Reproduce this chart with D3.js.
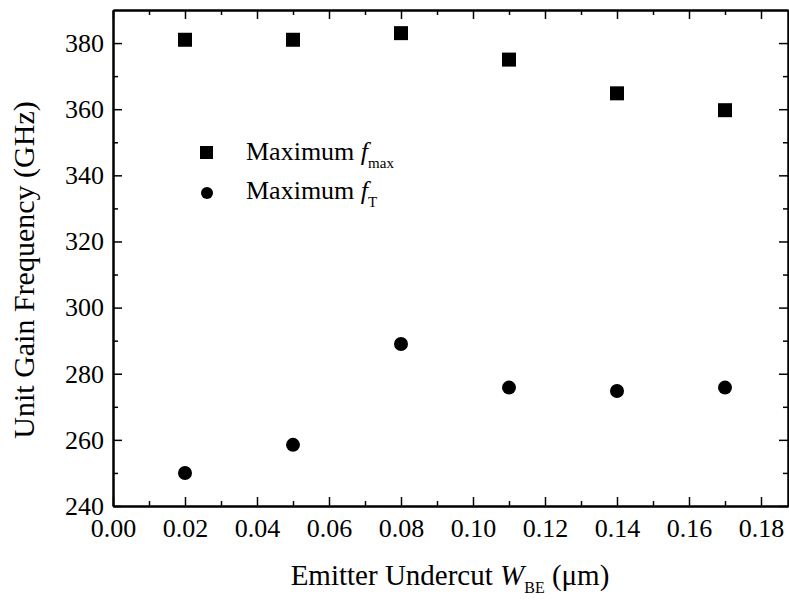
<!DOCTYPE html>
<html>
<head>
<meta charset="utf-8">
<script src="https://cdn.jsdelivr.net/npm/d3@7"></script>
<style>
  body { margin: 0; background: #fff; }
  text { font-family: "Liberation Serif", "Times New Roman", serif; fill: #000; }
</style>
</head>
<body>
<svg id="chart" width="789" height="601"></svg>
<script>
const undercut = [0.02, 0.05, 0.08, 0.11, 0.14, 0.17];
const fmaxValues = [381, 381, 383, 375, 364.8, 359.7];
const ftValues = [250, 258.5, 289, 275.8, 274.8, 275.8];
const xTicks = [0, 0.02, 0.04, 0.06, 0.08, 0.10, 0.12, 0.14, 0.16, 0.18];
const yTicks = [240, 260, 280, 300, 320, 340, 360, 380];

const plotLeft = 113, plotRight = 788, plotTop = 10, plotBottom = 506;
const svg = d3.select('#chart');

const x = d3.scaleLinear().domain([0, 0.1875]).range([plotLeft, plotRight]);
const y = d3.scaleLinear().domain([240, 390]).range([plotBottom, plotTop]);

const xMinor = d3.range(0.01, 0.19, 0.02);
const yMinor = d3.range(250, 390, 20);

function styleAxis(g) {
  g.attr('font-family', null).attr('font-size', null);
  g.select('.domain').attr('stroke', '#000').attr('stroke-width', 2);
  g.selectAll('.tick line').attr('stroke', '#000').attr('stroke-width', 1.5);
  g.selectAll('.tick text').style('font-size', '26px');
}

// bottom
svg.append('g').attr('transform', `translate(0,${plotBottom})`)
  .call(d3.axisBottom(x).tickValues(xTicks).tickFormat(d3.format('.2f')).tickSizeInner(-9).tickSizeOuter(0).tickPadding(13))
  .call(styleAxis);
svg.append('g').attr('transform', `translate(0,${plotBottom})`)
  .call(d3.axisBottom(x).tickValues(xMinor).tickFormat('').tickSizeInner(-5).tickSizeOuter(0))
  .call(styleAxis);

// top
svg.append('g').attr('transform', `translate(0,${plotTop})`)
  .call(d3.axisTop(x).tickValues(xTicks).tickFormat('').tickSizeInner(-9).tickSizeOuter(0))
  .call(styleAxis);
svg.append('g').attr('transform', `translate(0,${plotTop})`)
  .call(d3.axisTop(x).tickValues(xMinor).tickFormat('').tickSizeInner(-5).tickSizeOuter(0))
  .call(styleAxis);

// left
svg.append('g').attr('transform', `translate(${plotLeft},0)`)
  .call(d3.axisLeft(y).tickValues(yTicks).tickSizeInner(-9).tickSizeOuter(0).tickPadding(9))
  .call(styleAxis);
svg.append('g').attr('transform', `translate(${plotLeft},0)`)
  .call(d3.axisLeft(y).tickValues(yMinor).tickFormat('').tickSizeInner(-5).tickSizeOuter(0))
  .call(styleAxis);

// right
svg.append('g').attr('transform', `translate(${plotRight},0)`)
  .call(d3.axisRight(y).tickValues(yTicks).tickFormat('').tickSizeInner(-9).tickSizeOuter(0))
  .call(styleAxis);
svg.append('g').attr('transform', `translate(${plotRight},0)`)
  .call(d3.axisRight(y).tickValues(yMinor).tickFormat('').tickSizeInner(-5).tickSizeOuter(0))
  .call(styleAxis);

// markers
const sq = 14;
svg.append('g').selectAll('rect').data(undercut).enter().append('rect')
  .attr('x', (d) => x(d) - sq / 2)
  .attr('y', (d, i) => y(fmaxValues[i]) - sq / 2)
  .attr('width', sq).attr('height', sq).attr('fill', '#000');

svg.append('g').selectAll('circle').data(undercut).enter().append('circle')
  .attr('cx', (d) => x(d))
  .attr('cy', (d, i) => y(ftValues[i]))
  .attr('r', 7).attr('fill', '#000');

// legend
const legend = svg.append('g');
legend.append('rect').attr('x', 200).attr('y', 146).attr('width', 13).attr('height', 13).attr('fill', '#000');
legend.append('circle').attr('cx', 207).attr('cy', 193).attr('r', 6).attr('fill', '#000');
const l1 = legend.append('text').attr('x', 246).attr('y', 160).style('font-size', '26px');
l1.append('tspan').text('Maximum ');
l1.append('tspan').attr('font-style', 'italic').text('f');
l1.append('tspan').attr('dy', 8).style('font-size', '15px').text('max');
const l2 = legend.append('text').attr('x', 246).attr('y', 199).style('font-size', '26px');
l2.append('tspan').text('Maximum ');
l2.append('tspan').attr('font-style', 'italic').text('f');
l2.append('tspan').attr('dy', 8).style('font-size', '15px').text('T');

// axis titles
const xt = svg.append('text').attr('x', 450).attr('y', 585).attr('text-anchor', 'middle').style('font-size', '29px');
xt.append('tspan').text('Emitter Undercut ');
xt.append('tspan').attr('font-style', 'italic').text('W');
xt.append('tspan').attr('dy', 8).style('font-size', '16px').text('BE');
xt.append('tspan').attr('dy', -8).text(' (μm)');

svg.append('text').attr('transform', 'translate(34,270) rotate(-90)')
  .attr('text-anchor', 'middle').style('font-size', '30px')
  .text('Unit Gain Frequency (GHz)');
</script>
</body>
</html>
